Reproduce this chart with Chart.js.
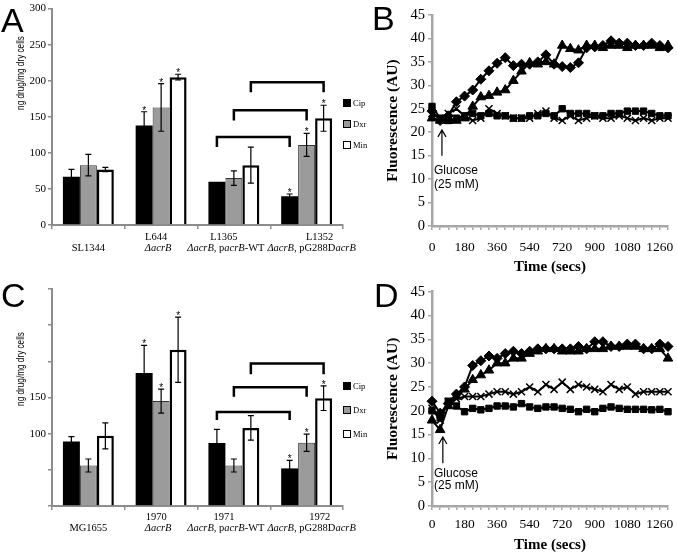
<!DOCTYPE html>
<html>
<head>
<meta charset="utf-8">
<script src="https://cdn.jsdelivr.net/npm/chart.js@4.4.1/dist/chart.umd.min.js"></script>
<style>
body { margin: 0; background: #fff; width: 677px; height: 558px; position: relative; overflow: hidden; }
.box { position: absolute; }
.letter { position: absolute; font: 34px "Liberation Sans", Arial, sans-serif; line-height: 1; color: #000; }
.yt { position: absolute; font: 10px "Liberation Sans", Arial, sans-serif; white-space: nowrap;
      transform: translate(-50%, -50%) rotate(-90deg) scaleX(0.82); }
.lg { position: absolute; font: 8.5px "Liberation Serif", serif; line-height: 10px; white-space: nowrap; }
.sw { display: inline-block; width: 6px; height: 6px; border: 1.5px solid #000; vertical-align: -1px; margin-right: 2px; }
</style>
</head>
<body>

<div class="box" style="left:0;top:0;width:362px;height:280px"><canvas id="chartA"></canvas></div>
<div class="box" style="left:380px;top:0;width:297px;height:280px"><canvas id="chartB"></canvas></div>
<div class="box" style="left:0;top:280px;width:362px;height:278px"><canvas id="chartC"></canvas></div>
<div class="box" style="left:380px;top:280px;width:297px;height:278px"><canvas id="chartD"></canvas></div>

<div class="letter" style="left:1px;top:3px">A</div>
<div class="letter" style="left:372px;top:1px">B</div>
<div class="letter" style="left:1px;top:278px">C</div>
<div class="letter" style="left:374px;top:278px">D</div>

<div class="yt" style="left:20px;top:73px">ng drug/mg dry cells</div>
<div class="yt" style="left:20px;top:369px">ng drug/mg dry cells</div>

<div class="lg" style="left:343px;top:98px"><span class="sw" style="background:#000"></span>Cip</div>
<div class="lg" style="left:343px;top:119px"><span class="sw" style="background:#9b9b9b"></span>Dxr</div>
<div class="lg" style="left:343px;top:140px"><span class="sw" style="background:#fff"></span>Min</div>
<div class="lg" style="left:343px;top:381px"><span class="sw" style="background:#000"></span>Cip</div>
<div class="lg" style="left:343px;top:405px"><span class="sw" style="background:#9b9b9b"></span>Dxr</div>
<div class="lg" style="left:343px;top:429px"><span class="sw" style="background:#fff"></span>Min</div>

<script>
// ---- panel A: Salmonella strains ----
var strainsA = ['SL1344', 'L644', 'L1365', 'L1352'];
var genoA = ['', '_ΔacrB_', '_ΔacrB_, p_acrB_-WT', '_ΔacrB_, pG288D_acrB_'];
var cipA = [67, 138, 60, 40];
var cipErrA = [10, 19, 0, 3];
var dxrA = [83, 163, 65, 111];
var dxrErrA = [15, 33, 10, 16];
var minA = [77, 205, 83, 148];
var minErrA = [3, 4, 25, 18];
var starsA = [[0, 1, 0, 1], [0, 1, 0, 1], [0, 1, 0, 1]];
var bracketsA = [[122, 108], [159, 145], [198, 184]];   // [top, leg end] per drug, L1365 vs L1352
var yLabelsA = [0, 50, 100, 150, 200, 250, 300];

// ---- panel C: E. coli strains ----
var strainsC = ['MG1655', '1970', '1971', '1972'];
var genoC = ['', '_ΔacrB_', '_ΔacrB_, p_acrB_-WT', '_ΔacrB_, pG288D_acrB_'];
var cipC = [89, 184, 87, 52];
var cipErrC = [7, 38, 19, 11];
var dxrC = [56, 145, 56, 87.5];
var dxrErrC = [9, 16.5, 9, 12];
var minC = [97, 216, 108, 149];
var minErrC = [18, 45, 17, 17];
var starsC = [[0, 1, 0, 1], [0, 1, 0, 1], [0, 1, 0, 1]];
var bracketsC = [[130, 119], [164, 151], [197, 182]];
var yLabelsC = [100, 150];

// ---- panels B and D: fluorescence over time ----
var times = [0, 45, 90, 135, 180, 225, 270, 315, 360, 405, 450, 495, 540, 585, 630,
             675, 720, 765, 810, 855, 900, 945, 990, 1035, 1080, 1125, 1170, 1215, 1260, 1305];
var timeLabels = [0, 180, 360, 540, 720, 900, 1080, 1260];

var diamondB  = [24.5, 22.5, 23.5, 26.5, 27.7, 29, 31.3, 33.1, 34.7, 35.9, 34.2, 34.5, 34.5, 35, 36.5,
                 34.5, 34, 33.8, 34.8, 38, 38.2, 38.5, 39.5, 39, 39, 38.5, 38.5, 39, 38.5, 38];
var triangleB = [23, 22.5, 22.5, 22.5, 23, 25.5, 27.5, 27.8, 28.5, 29, 31, 33, 34.8, 34.5, 35,
                 34.5, 38.5, 37.8, 37.5, 38.5, 38.5, 38, 38.5, 38.5, 38, 38.5, 38.5, 38.5, 38, 38.5];
var squareB   = [25.5, 23, 22.5, 23, 23.5, 24, 23.5, 24, 23.5, 23.5, 23, 23, 23.5, 23.5, 24,
                 23.5, 25, 24, 24, 24, 23.5, 23.5, 24, 24, 24.5, 24.5, 24.5, 24, 23.5, 23.5];
var crossB    = [24, 23, 24, 25, 23.5, 22.5, 23, 25, 24, 23.5, 23, 23, 23, 24, 24.5,
                 23, 22.5, 23.5, 22.5, 23, 23.5, 23, 23, 23.5, 23, 22.5, 23, 22.5, 23, 23];

var diamondD  = [22, 19.5, 21.5, 23.5, 25, 29.5, 30.5, 31.5, 31, 32, 32.5, 32, 32.5, 33, 33,
                 33, 33, 33, 33.5, 33, 34.5, 34.5, 33.5, 33.5, 34, 34, 33, 33, 34, 33.5];
var triangleD = [18, 16, 21, 23, 24.5, 26.5, 27.5, 28.5, 30, 30, 31, 31, 32, 32.5, 33,
                 33, 32.5, 32.5, 32.5, 33, 33, 33, 33.5, 33.5, 33.5, 33.5, 33, 33, 33, 31];
var squareD   = [20, 18.5, 22, 21, 19.8, 20.5, 20.2, 20.5, 21, 21, 20.8, 21.5, 20.8, 20.5, 20.8,
                 20.8, 20.5, 20.3, 19.8, 20.3, 19.8, 20.5, 20.8, 20.5, 20.3, 20.3, 20.3, 20.2, 20.3, 19.8];
var crossD    = [20.5, 18, 22, 22.5, 23, 23, 23, 23.5, 24, 24, 23.5, 24, 25, 24, 25.5,
                 24.5, 26, 24.5, 25.5, 25, 24.5, 24, 25.5, 24.5, 25, 23.5, 24, 24, 24, 24];

var SERIF = '"Liberation Serif", "Times New Roman", serif';
Chart.defaults.font.family = SERIF;
Chart.defaults.color = '#000';

// error bars, significance stars and comparison brackets
var barExtras = {
    id: 'barExtras',
    afterDatasetsDraw: function(chart, args, o) {
        if (!o || !o.errors) return;
        var ys = chart.scales.y, ctx = chart.ctx;
        ctx.save();
        ctx.strokeStyle = '#000';
        ctx.fillStyle = '#000';
        ctx.textAlign = 'center';
        ctx.textBaseline = 'alphabetic';
        ctx.font = '10px "Liberation Sans", Arial, sans-serif';
        chart.data.datasets.forEach(function(ds, di) {
            var meta = chart.getDatasetMeta(di);
            meta.data.forEach(function(bar, i) {
                var v = ds.data[i], e = o.errors[di][i];
                var top = ys.getPixelForValue(v + e), bot = ys.getPixelForValue(v - e);
                if (e > 0) {
                    ctx.lineWidth = 1.2;
                    ctx.beginPath();
                    ctx.moveTo(bar.x, top); ctx.lineTo(bar.x, bot);
                    ctx.moveTo(bar.x - 3, top); ctx.lineTo(bar.x + 3, top);
                    ctx.moveTo(bar.x - 3, bot); ctx.lineTo(bar.x + 3, bot);
                    ctx.stroke();
                }
                if (o.stars[di][i]) ctx.fillText('*', bar.x, top + 2);
            });
        });
        ctx.lineWidth = 2.5;
        ctx.lineJoin = 'miter';
        o.brackets.forEach(function(b, di) {
            var meta = chart.getDatasetMeta(di);
            var xa = meta.data[o.pair[0]].x, xb = meta.data[o.pair[1]].x;
            var yt = ys.getPixelForValue(b[0]), yl = ys.getPixelForValue(b[1]);
            ctx.beginPath();
            ctx.moveTo(xa, yl); ctx.lineTo(xa, yt); ctx.lineTo(xb, yt); ctx.lineTo(xb, yl);
            ctx.stroke();
        });
        ctx.restore();
    }
};

// two-line strain labels, genotype with italic gene names (_..._)
function drawRich(ctx, str, cx, y, size) {
    var parts = str.split('_');
    var widths = parts.map(function(p, i) {
        ctx.font = (i % 2 ? 'italic ' : '') + size + 'px ' + SERIF;
        return ctx.measureText(p).width;
    });
    var x = cx - widths.reduce(function(a, b) { return a + b; }, 0) / 2;
    parts.forEach(function(p, i) {
        ctx.font = (i % 2 ? 'italic ' : '') + size + 'px ' + SERIF;
        ctx.fillText(p, x, y);
        x += widths[i];
    });
}

var strainLabels = {
    id: 'strainLabels',
    afterDraw: function(chart, args, o) {
        if (!o || !o.names) return;
        var xs = chart.scales.x, ctx = chart.ctx, base = chart.chartArea.bottom;
        ctx.save();
        ctx.fillStyle = '#000';
        ctx.textAlign = 'left';
        ctx.textBaseline = 'middle';
        o.names.forEach(function(name, i) {
            var cx = xs.getPixelForValue(i);
            if (o.genos[i]) {
                drawRich(ctx, name, cx + o.shift1[i], base + o.line1, 10.5);
                drawRich(ctx, o.genos[i], cx + o.shift2[i], base + o.line2, 10.5);
            } else {
                drawRich(ctx, name, cx, base + o.line2, 10.5);
            }
        });
        ctx.restore();
    }
};

// glucose addition arrow
var glucose = {
    id: 'glucose',
    afterDraw: function(chart, args, o) {
        if (!o || o.at == null) return;
        var xs = chart.scales.x, ys = chart.scales.y, ctx = chart.ctx;
        var x = xs.getPixelForValue(o.at), y1 = ys.getPixelForValue(o.tip), y2 = ys.getPixelForValue(o.tail);
        ctx.save();
        ctx.strokeStyle = '#000';
        ctx.lineWidth = 1.2;
        ctx.beginPath();
        ctx.moveTo(x, y2); ctx.lineTo(x, y1);
        ctx.moveTo(x - 4, y1 + 7); ctx.lineTo(x, y1); ctx.lineTo(x + 4, y1 + 7);
        ctx.stroke();
        ctx.fillStyle = '#000';
        ctx.font = '12px "Liberation Sans", Arial, sans-serif';
        ctx.textBaseline = 'middle';
        ctx.fillText('Glucose', xs.left + 2, ys.getPixelForValue(o.text1));
        ctx.fillText('(25 mM)', xs.left + 2, ys.getPixelForValue(o.text2));
        ctx.restore();
    }
};

Chart.register(barExtras, strainLabels, glucose);

function makeBars(id, names, genos, cip, dxr, min, errs, stars, brackets, yLabels, padTop, xHeight, lines) {
    var barOpts = { categoryPercentage: 0.7, barPercentage: 1.0 };
    return new Chart(document.getElementById(id), {
        type: 'bar',
        data: {
            labels: names,
            datasets: [
                Object.assign({ label: 'Cip', data: cip, backgroundColor: '#000', borderWidth: 0 }, barOpts),
                Object.assign({ label: 'Dxr', data: dxr, backgroundColor: '#9b9b9b', borderColor: '#333', borderWidth: 1 }, barOpts),
                Object.assign({ label: 'Min', data: min, backgroundColor: '#fff', borderColor: '#000', borderWidth: 2.5 }, barOpts)
            ]
        },
        options: {
            responsive: true,
            maintainAspectRatio: false,
            animation: false,
            layout: { padding: { top: padTop, right: 19, left: 0, bottom: 0 } },
            plugins: {
                legend: { display: false },
                tooltip: { enabled: false },
                barExtras: { errors: errs, stars: stars, brackets: brackets, pair: [2, 3] },
                strainLabels: { names: names, genos: genos, line1: lines[0], line2: lines[1],
                                shift1: [0, -5, -10, 13], shift2: [0, -3, -8, 5] }
            },
            scales: {
                x: {
                    ticks: { display: false },
                    grid: { drawOnChartArea: false, tickLength: 4, color: '#8c8c8c', lineWidth: 1.5 },
                    border: { color: '#8c8c8c', width: 2 },
                    afterFit: function(s) { s.height = xHeight; }
                },
                y: {
                    min: 0, max: 300,
                    ticks: {
                        stepSize: 50, padding: 2,
                        font: { family: SERIF, size: 11 },
                        callback: function(v) { return yLabels.indexOf(v) >= 0 ? v : ''; }
                    },
                    grid: { drawOnChartArea: false, tickLength: 4, color: '#8c8c8c', lineWidth: 1.5 },
                    border: { color: '#8c8c8c', width: 2 },
                    afterFit: function(s) { s.width = 52; }
                }
            }
        }
    });
}

function series(vals, style, radius) {
    return {
        data: times.map(function(t, i) { return { x: t, y: vals[i] }; }),
        borderColor: '#000',
        backgroundColor: '#000',
        borderWidth: 2,
        pointStyle: style,
        pointRadius: radius,
        pointBorderWidth: style === 'crossRot' ? 1.5 : 1,
        pointBackgroundColor: '#000',
        pointBorderColor: '#000',
        tension: 0,
        clip: false
    };
}

function makeLines(id, sets, arrow, padTop, xHeight, xPad) {
    return new Chart(document.getElementById(id), {
        type: 'line',
        data: {
            datasets: [
                series(sets[2], 'rect', 4.5),
                series(sets[3], 'crossRot', 5),
                series(sets[1], 'triangle', 5.5),
                series(sets[0], 'rectRot', 5)
            ]
        },
        options: {
            responsive: true,
            maintainAspectRatio: false,
            animation: false,
            layout: { padding: { top: padTop, right: 9, left: 0, bottom: 0 } },
            plugins: { legend: { display: false }, tooltip: { enabled: false }, glucose: arrow },
            scales: {
                x: {
                    type: 'linear', min: 0, max: 1305,
                    ticks: {
                        stepSize: 45, autoSkip: false, maxRotation: 0, padding: xPad,
                        font: { family: SERIF, size: 13.5 },
                        callback: function(v) { return timeLabels.indexOf(v) >= 0 ? v : ''; }
                    },
                    grid: { drawOnChartArea: false, tickLength: 4, color: '#a6a6a6', lineWidth: 1.5 },
                    border: { color: '#a6a6a6', width: 2.5 },
                    title: { display: true, text: 'Time (secs)', font: { family: SERIF, size: 15, weight: 'bold' }, padding: { top: 0, bottom: 4 } },
                    afterFit: function(s) { s.height = xHeight; }
                },
                y: {
                    min: 0, max: 45,
                    ticks: { stepSize: 5, padding: 3, font: { family: SERIF, size: 14.5 } },
                    grid: { drawOnChartArea: false, tickLength: 4, color: '#a6a6a6', lineWidth: 1.5 },
                    border: { color: '#a6a6a6', width: 2.5 },
                    title: { display: true, text: 'Fluorescence (AU)', font: { family: SERIF, size: 15.5, weight: 'bold' }, padding: { top: 4, bottom: 0 } },
                    afterFit: function(s) { s.width = 52; }
                }
            }
        }
    });
}

makeBars('chartA', strainsA, genoA, cipA, dxrA, minA, [cipErrA, dxrErrA, minErrA], starsA, bracketsA,
         yLabelsA, 8, 55, [12, 23]);
makeBars('chartC', strainsC, genoC, cipC, dxrC, minC, [cipErrC, dxrErrC, minErrC], starsC, bracketsC,
         yLabelsC, 9, 52, [11, 22]);
makeLines('chartB', [diamondB, triangleB, squareB, crossB],
          { at: 55, tip: 20.5, tail: 15, text1: 11.9, text2: 8.9 }, 15, 54, 9);
makeLines('chartD', [diamondD, triangleD, squareD, crossD],
          { at: 60, tip: 14.5, tail: 9, text1: 6.7, text2: 4.2 }, 9, 52, 6);
</script>
</body>
</html>
